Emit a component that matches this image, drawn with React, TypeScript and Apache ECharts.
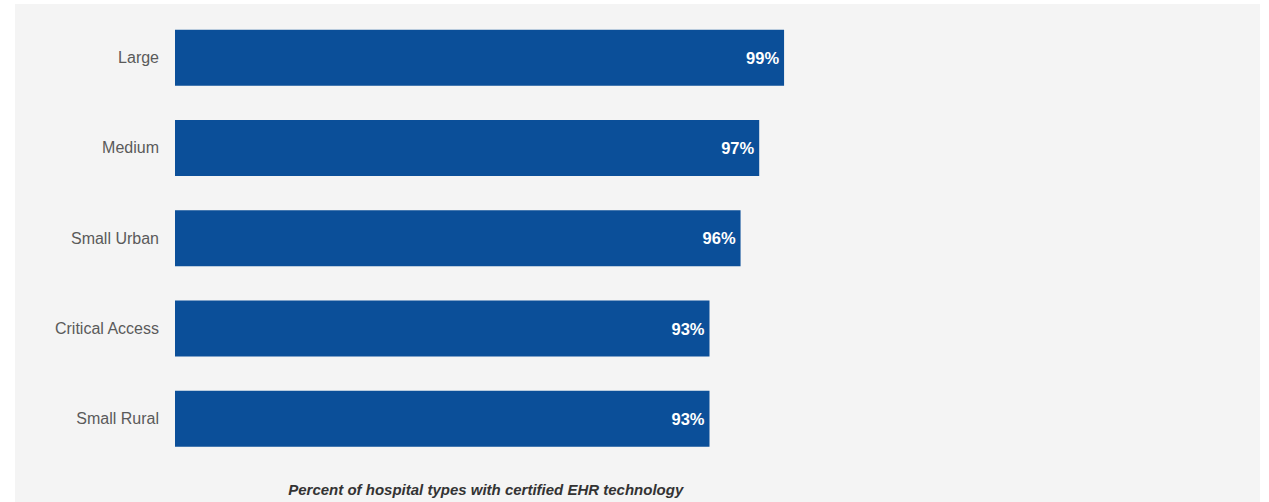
import React, { useEffect, useRef } from "react";
import * as echarts from "echarts";

const categories = ["Large", "Medium", "Small Urban", "Critical Access", "Small Rural"];
const values = [99, 97, 95.5, 93, 93];
const axisTitle = "Percent of hospital types with certified EHR technology";

export default function App() {
  const ref = useRef<HTMLDivElement>(null);
  useEffect(() => {
    document.body.style.margin = "0";
    const chart = echarts.init(ref.current!, null, { renderer: "svg" });
    chart.setOption({
      animation: false,
      backgroundColor: "#f4f4f4",
      grid: { left: 160, top: 8.5, height: 459, width: 621.5, containLabel: false },
      xAxis: {
        type: "value",
        min: 50,
        max: 100,
        axisLine: { show: false },
        axisTick: { show: false },
        axisLabel: { show: false },
        splitLine: { show: false },
        name: axisTitle,
        nameLocation: "middle",
        nameGap: 18,
        nameTextStyle: {
          fontFamily: "Liberation Sans, Arial, sans-serif",
          fontSize: 15,
          fontWeight: "bold",
          fontStyle: "italic",
          color: "#333",
        },
      },
      yAxis: {
        type: "category",
        data: categories,
        inverse: true,
        axisLine: { show: false },
        axisTick: { show: false },
        splitLine: { show: false },
        axisLabel: {
          margin: 16,
          fontFamily: "Liberation Sans, Arial, sans-serif",
          fontSize: 16,
          color: "#5a5a5a",
        },
      },
      series: [
        {
          type: "bar",
          data: values,
          barWidth: 56,
          itemStyle: { color: "#0b4f99" },
          label: {
            show: true,
            position: "insideRight",
            distance: 5,
            formatter: (p: any) => Math.round(p.value) + "%",
            fontFamily: "Liberation Sans, Arial, sans-serif",
            fontSize: 16.5,
            fontWeight: "bold",
            color: "#fff",
          },
        },
      ],
    });
    return () => chart.dispose();
  }, []);
  return (
    <div style={{ position: "relative", width: 1269, height: 502, background: "#fff" }}>
      <div ref={ref} style={{ position: "absolute", left: 15, top: 4, width: 1245, height: 498 }} />
    </div>
  );
}
